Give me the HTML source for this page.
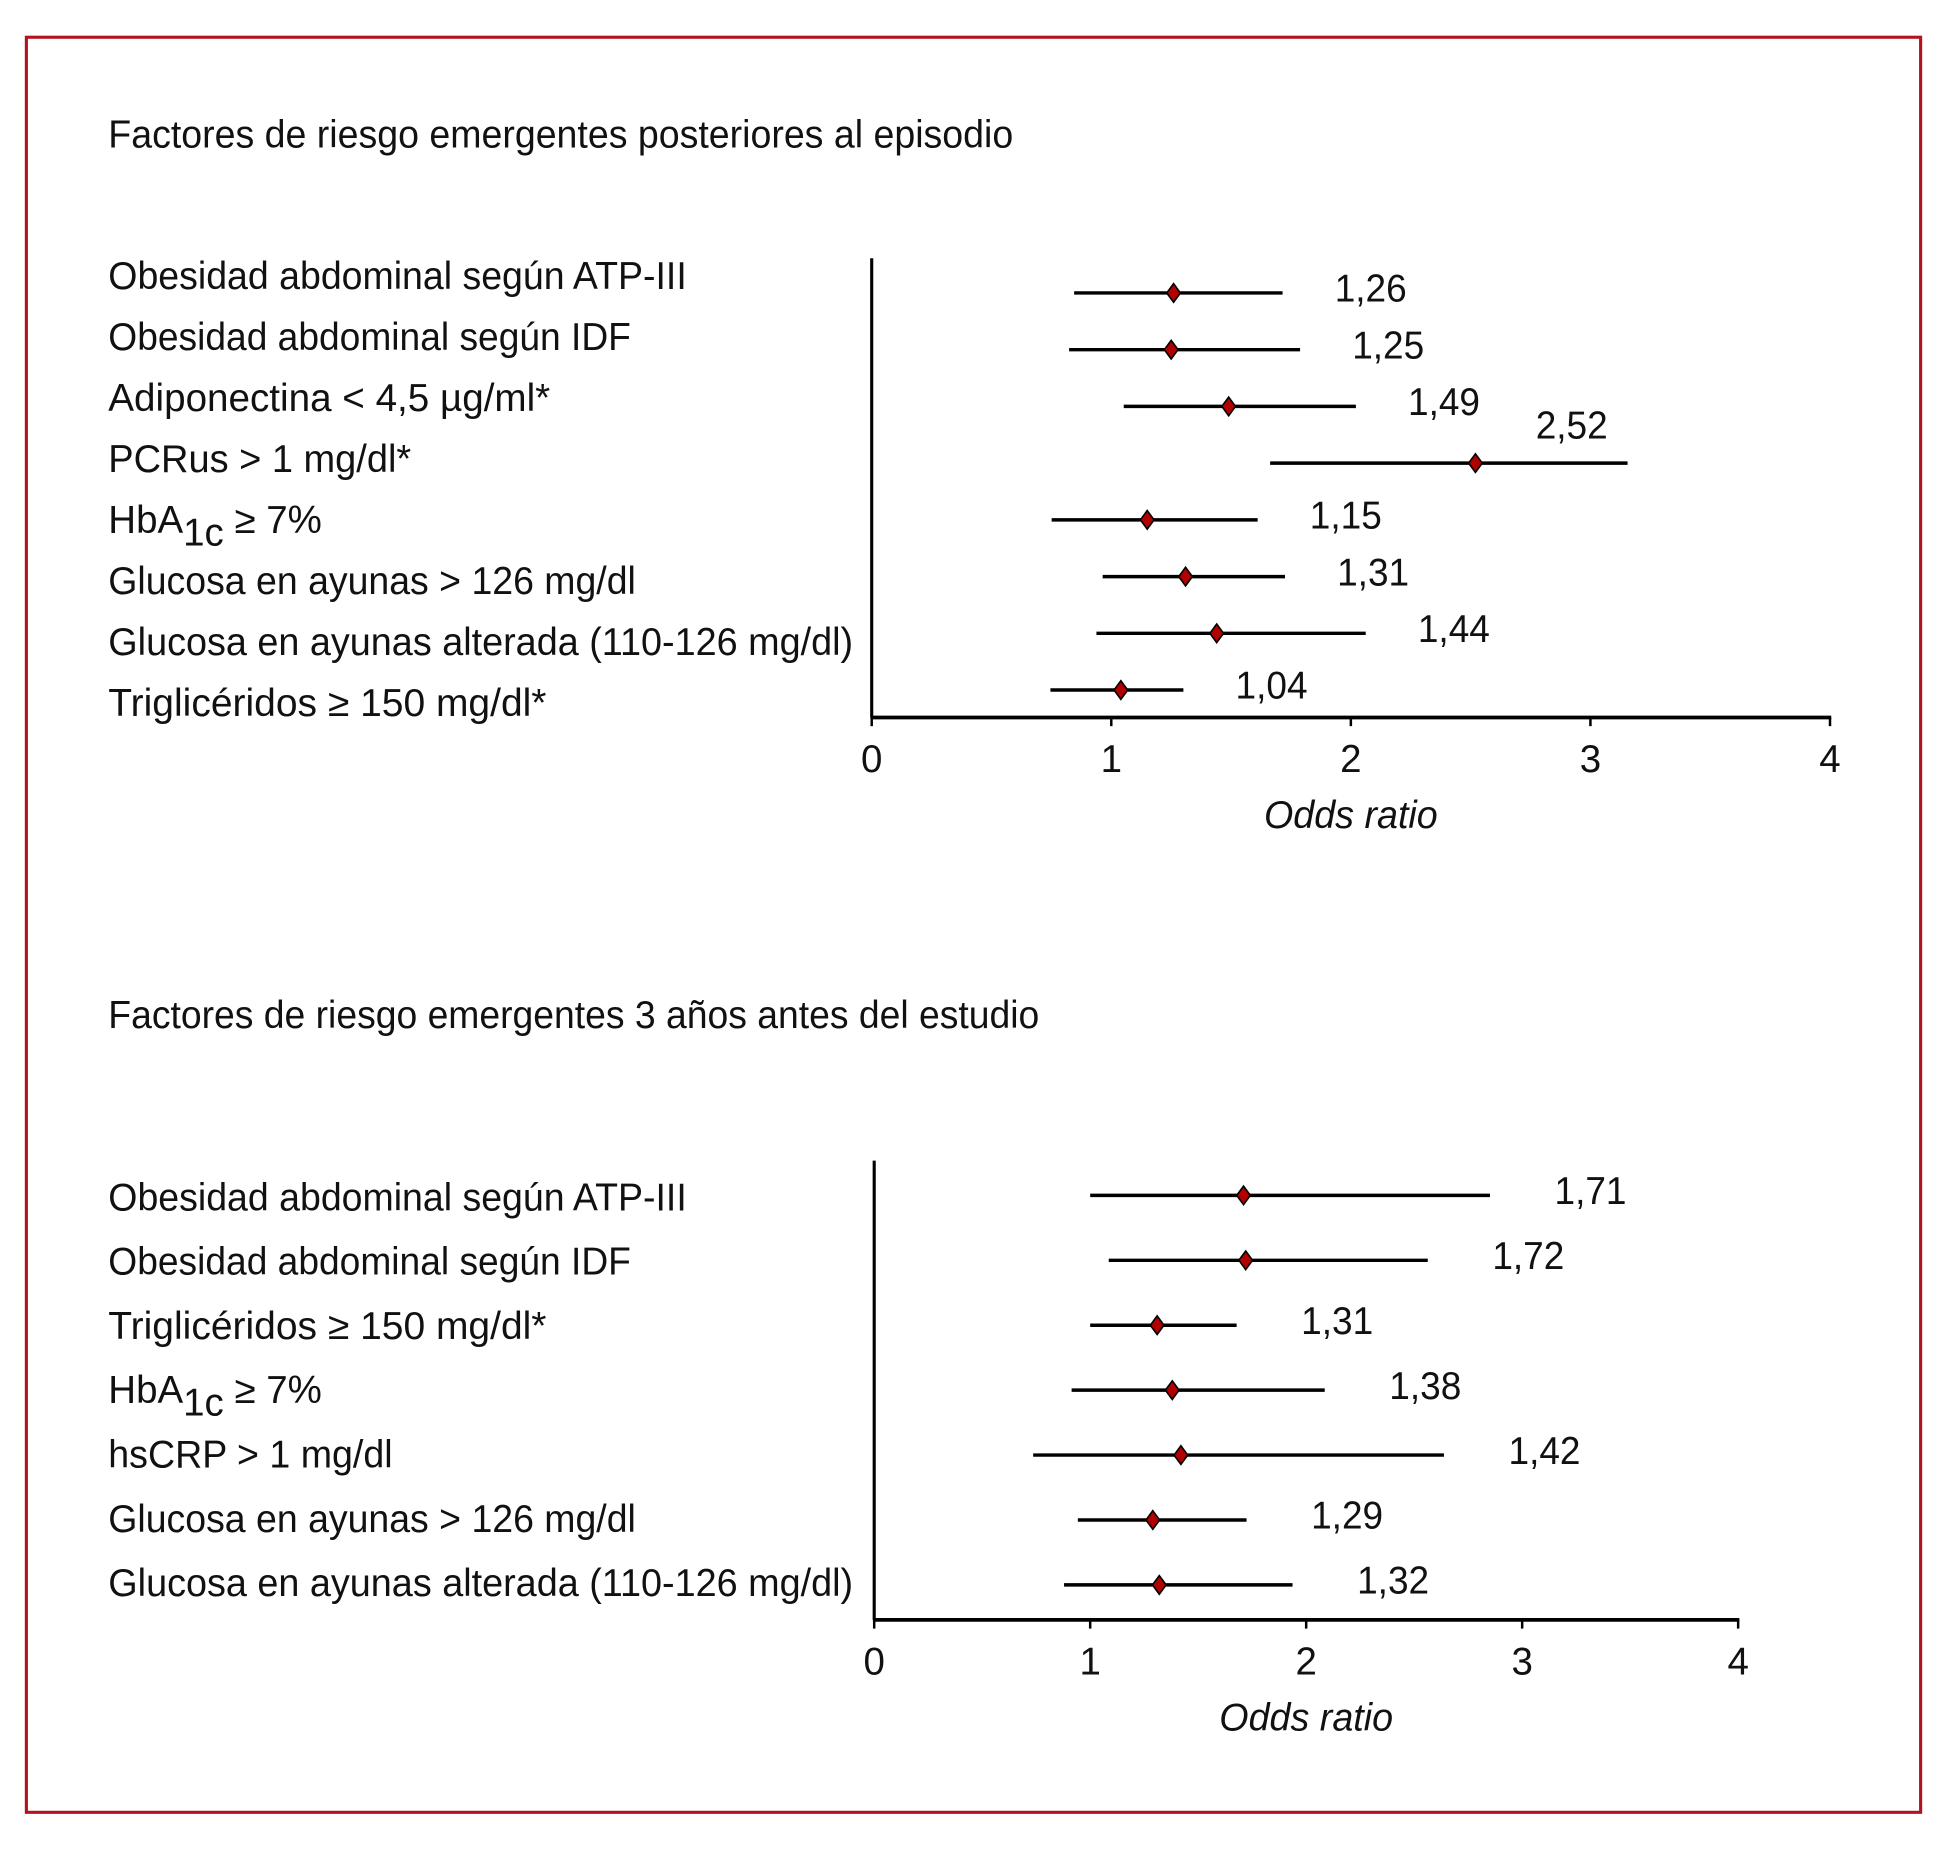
<!DOCTYPE html>
<html><head><meta charset="utf-8"><style>
html,body{margin:0;padding:0;background:#fff}
svg{display:block}
text{font-family:"Liberation Sans Narrow","Liberation Sans",sans-serif;fill:#111;font-size:31px}
</style></head><body>
<svg id="chart" width="1947" height="1857" viewBox="0 0 1568 1496" xmlns="http://www.w3.org/2000/svg">
<rect x="21" y="30" width="1526" height="1430" fill="none" stroke="#b3121f" stroke-width="2.5"/>
<text x="87" y="119" textLength="729" lengthAdjust="spacingAndGlyphs">Factores de riesgo emergentes posteriores al episodio</text>
<text x="87" y="828" textLength="750" lengthAdjust="spacingAndGlyphs">Factores de riesgo emergentes 3 años antes del estudio</text>
<g id="top"></g>
<g id="bot"></g>
</svg>
<script>
// Top chart data
const topLabels = ["Obesidad abdominal según ATP-III","Obesidad abdominal según IDF","Adiponectina < 4,5 µg/ml*","PCRus > 1 mg/dl*","HBA1C","Glucosa en ayunas > 126 mg/dl","Glucosa en ayunas alterada (110-126 mg/dl)","Triglicéridos ≥ 150 mg/dl*"];
const topOR = [1.26,1.25,1.49,2.52,1.15,1.31,1.44,1.04];
const topLo = [0.845,0.824,1.052,1.663,0.751,0.964,0.938,0.746];
const topHi = [1.715,1.788,2.021,3.155,1.611,1.725,2.062,1.301];
const topText = ["1,26","1,25","1,49","2,52","1,15","1,31","1,44","1,04"];
// Bottom chart data
const botLabels = ["Obesidad abdominal según ATP-III","Obesidad abdominal según IDF","Triglicéridos ≥ 150 mg/dl*","HBA1C","hsCRP > 1 mg/dl","Glucosa en ayunas > 126 mg/dl","Glucosa en ayunas alterada (110-126 mg/dl)"];
const botOR = [1.71,1.72,1.31,1.38,1.42,1.29,1.32];
const botLo = [1.0,1.086,1.0,0.914,0.736,0.943,0.879];
const botHi = [2.851,2.563,1.678,2.086,2.638,1.724,1.937];
const botText = ["1,71","1,72","1,31","1,38","1,42","1,29","1,32"];
const ticks = [0,1,2,3,4];
const labelWidths = {"Obesidad abdominal según ATP-III":466,"Obesidad abdominal según IDF":421,"Adiponectina < 4,5 µg/ml*":356,"PCRus > 1 mg/dl*":244,"Glucosa en ayunas > 126 mg/dl":425,"Glucosa en ayunas alterada (110-126 mg/dl)":600,"Triglicéridos ≥ 150 mg/dl*":353,"hsCRP > 1 mg/dl":229};
const NS="http://www.w3.org/2000/svg";
function mk(parent,tag,attrs,txt){const e=document.createElementNS(NS,tag);for(const k in attrs)e.setAttribute(k,attrs[k]);if(txt!==undefined)e.textContent=txt;parent.appendChild(e);return e;}
function draw(g,labels,or,lo,hi,txt,cfg){
  const x=v=>cfg.x0+(v/4)*(cfg.x1-cfg.x0);
  const y=i=>cfg.yFirst+i*cfg.step;
  const ya=mk(g,"line",{x1:cfg.x0,y1:cfg.yTop,x2:cfg.x0,y2:cfg.yAxis,stroke:"#000","stroke-width":2.5});
  
  
  const xa=mk(g,"line",{x1:cfg.x0-1,y1:cfg.yAxis,x2:cfg.x1+1,y2:cfg.yAxis,stroke:"#000","stroke-width":3});
  
  
  ticks.forEach(t=>{
    const tl=mk(g,"line",{x1:x(t),y1:cfg.yAxis,x2:x(t),y2:cfg.yAxis+7,stroke:"#000","stroke-width":2});
    
    
    const tt=mk(g,"text",{x:x(t),y:cfg.yAxis+44,"text-anchor":"middle"},String(t));
    
    
  });
  const at=mk(g,"text",{x:(cfg.x0+cfg.x1)/2,y:cfg.yAxis+89,"text-anchor":"middle","font-style":"italic",textLength:140,lengthAdjust:"spacingAndGlyphs"},"Odds ratio");
  
  
  labels.forEach((l,i)=>{
    const ly=cfg.labelFirst+i*cfg.labelStep+11;
    let t;
    if(l==="HBA1C"){
      t=mk(g,"text",{x:87,y:ly});
      mk(t,"tspan",{},"HbA");
      mk(t,"tspan",{dy:10},"1c");
      mk(t,"tspan",{dy:-10},"  ≥ 7%");
    } else {
      t=mk(g,"text",{x:87,y:ly,textLength:labelWidths[l],lengthAdjust:"spacingAndGlyphs"},l);
    }
    
    
    const cy=y(i);
    const ci=mk(g,"line",{x1:x(lo[i]),y1:cy,x2:x(hi[i]),y2:cy,stroke:"#000","stroke-width":2.8});
    
    
    const px=x(or[i]);
    const d=mk(g,"polygon",{points:`${px},${cy-7.5} ${px+5.5},${cy} ${px},${cy+7.5} ${px-5.5},${cy}`,fill:"#b00000",stroke:"#000","stroke-width":1.3});
    
    
    let vx=x(hi[i])+cfg.gap, vy=cy+7;
    if(hi[i]>3){vx=x(hi[i])-74; vy=cy-20;}
    const vt=mk(g,"text",{x:vx,y:vy,textLength:58,lengthAdjust:"spacingAndGlyphs"},txt[i]);
    
    
  });
}
draw(document.getElementById('top'),topLabels,topOR,topLo,topHi,topText,
 {x0:702,x1:1474,yTop:208,yAxis:578,yFirst:236,step:45.7,labelFirst:222,labelStep:49.1,gap:42});
draw(document.getElementById('bot'),botLabels,botOR,botLo,botHi,botText,
 {x0:704,x1:1400,yTop:935,yAxis:1305,yFirst:963,step:52.3,labelFirst:964,labelStep:51.8,gap:52});
</script>
</body></html>
